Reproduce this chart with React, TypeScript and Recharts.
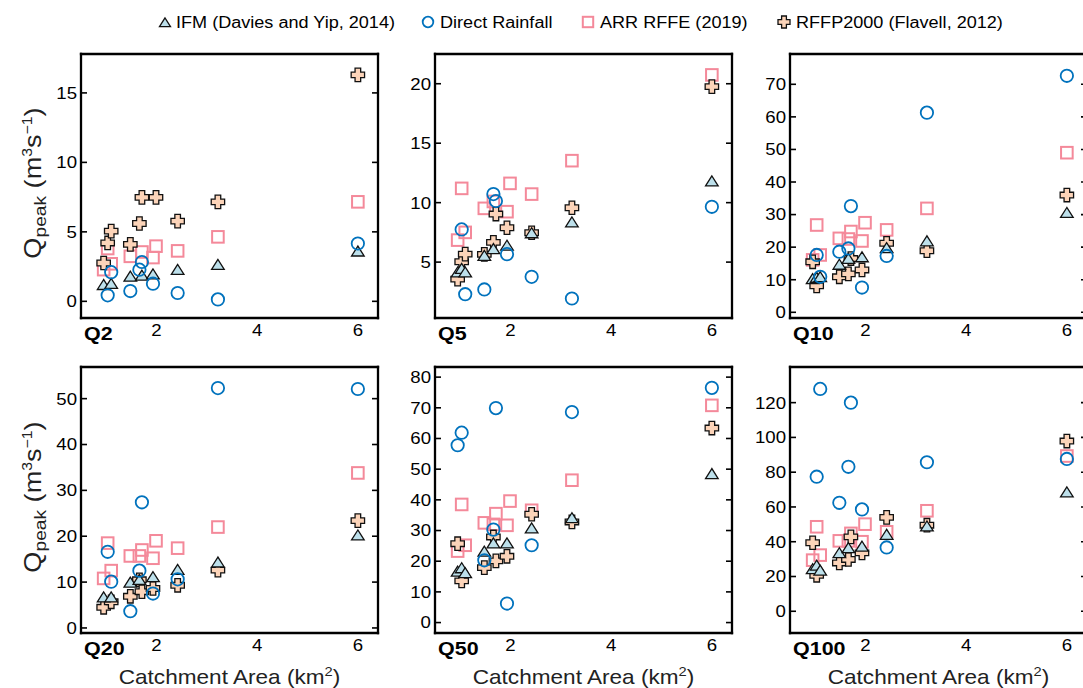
import React from 'react';
import { ScatterChart, Scatter, XAxis, YAxis } from 'recharts';

// ---------------- data ----------------
const catchmentAreas = [0.95, 1.03, 1.1, 1.48, 1.66, 1.71, 1.93, 1.99, 2.42, 3.22, 6.0];
const xTickValues = [2, 4, 6];
const seriesNames = ['IFM (Davies and Yip, 2014)', 'Direct Rainfall', 'ARR RFFE (2019)', 'RFFP2000 (Flavell, 2012)'];
const panelNames = ['Q2', 'Q5', 'Q10', 'Q20', 'Q50', 'Q100'];

const q2Ifm = [1.15, null, 1.23, 1.75, null, 1.83, 1.92, null, 2.24, 2.6, 3.56];
const q2Dr = [null, 0.43, 2.1, 0.74, 2.28, 2.83, 1.27, null, 0.6, 0.14, 4.16];
const q2Arr = [2.28, 3.8, 2.7, 3.24, null, 3.55, 3.15, 3.97, 3.63, 4.64, 7.16];
const q2Rffp = [2.76, 4.2, 5.05, 4.1, 5.6, 7.48, null, 7.48, 5.77, 7.16, 16.3];

const q5Ifm = [4.1, 4.4, 4.1, 5.5, 6.07, null, 6.35, null, 7.4, 8.31, 11.76];
const q5Dr = [null, 7.75, 2.3, 2.7, 10.72, 10.13, 5.67, null, 3.76, 1.94, 9.65];
const q5Arr = [6.85, 11.2, 7.5, 9.52, 10.1, null, 9.24, 11.62, 10.72, 13.53, 20.74];
const q5Rffp = [3.57, 5.03, 5.67, 5.65, 6.66, 9.04, 7.89, null, 7.47, 9.57, 19.76];

const q10Ifm = [10.1, 10.5, 10.7, 14.5, 16.3, null, 16.8, null, 19.6, 21.7, 30.4];
const q10Dr = [null, 17.6, 10.9, 18.6, 19.6, 32.6, 7.6, null, 17.3, 61.3, 72.6];
const q10Arr = [16.1, 26.8, 17.6, 22.7, 22.5, 24.8, 21.9, 27.5, 25.3, 31.9, 49.0];
const q10Rffp = [15.5, 8.1, null, 10.9, 11.8, 16.5, 13.0, null, 21.2, 18.9, 36.0];

const q20Ifm = [6.6, null, 6.6, 9.8, 10.4, null, 11.0, null, 12.6, 14.2, 20.1];
const q20Dr = [null, 16.6, 10.1, 3.65, 12.5, 27.4, 7.5, null, 10.6, 52.3, 52.1];
const q20Arr = [10.8, 18.5, 12.5, 15.7, 15.7, 17.0, 15.2, 19.0, 17.4, 22.0, 33.8];
const q20Rffp = [4.5, null, 5.7, 6.9, 10.5, 7.9, 8.6, null, 9.3, 12.6, 23.4];

const q50Ifm = [16.5, 17.6, 16.0, 23.0, 25.7, null, 25.7, null, 30.6, 33.9, 48.3];
const q50Dr = [57.8, 61.9, null, 20.3, 30.3, 69.9, 6.2, null, 25.2, 68.6, 76.5];
const q50Arr = [23.3, 38.5, 25.2, 32.5, 32.0, 35.5, 31.7, 39.6, 36.6, 46.4, 70.8];
const q50Rffp = [25.7, 13.6, null, 17.9, 27.9, 20.1, 21.6, null, 35.3, 32.8, 63.4];

const q100Ifm = [24.0, 26.0, 23.2, 33.2, 36.1, null, 37.0, null, 43.8, 48.6, 68.2];
const q100Dr = [null, 77.4, 127.9, 62.4, 83.1, 120, 58.6, null, 36.7, 85.7, 87.6];
const q100Arr = [29.4, 48.6, 32.3, 40.5, 40.5, 44.8, 40.0, 50.1, 45.7, 57.8, 89.3];
const q100Rffp = [39.4, 20.7, null, 27.8, 29.8, 42.8, 33.6, null, 54.0, 49.5, 97.9];

const q2YTicks = [0, 5, 10, 15];
const q5YTicks = [5, 10, 15, 20];
const q10YTicks = [0, 10, 20, 30, 40, 50, 60, 70];
const q20YTicks = [0, 10, 20, 30, 40, 50];
const q50YTicks = [0, 10, 20, 30, 40, 50, 60, 70, 80];
const q100YTicks = [0, 20, 40, 60, 80, 100, 120];

// ---------------- layout / style ----------------
const FONT = '"Liberation Sans", Arial, Helvetica, sans-serif';
const SX = 1.13;
const X_DOMAIN: [number, number] = [0.5, 6.4];
const COL_LEFT = [81, 435, 790];
const ROW_TOP = [54, 367];
const ROW_H = [264, 266];
const PLOT_W = 297;

const BLUE = '#0072BD';
const PINK = '#F4899A';
const TRI_FILL = '#BDE0EB';
const CROSS_FILL = '#FCD4B9';
const EDGE = '#111111';

type Panel = {
  name: string;
  col: number;
  row: number;
  yDomain: [number, number];
  yTicks: number[];
  values: (number | null)[][]; // [IFM, DR, ARR, RFFP]
};

const panels: Panel[] = [
  { name: panelNames[0], col: 0, row: 0, yDomain: [-1.2, 17.8], yTicks: q2YTicks, values: [q2Ifm, q2Dr, q2Arr, q2Rffp] },
  { name: panelNames[1], col: 1, row: 0, yDomain: [0.3, 22.5], yTicks: q5YTicks, values: [q5Ifm, q5Dr, q5Arr, q5Rffp] },
  { name: panelNames[2], col: 2, row: 0, yDomain: [-1.75, 79.3], yTicks: q10YTicks, values: [q10Ifm, q10Dr, q10Arr, q10Rffp] },
  { name: panelNames[3], col: 0, row: 1, yDomain: [-1.1, 56.9], yTicks: q20YTicks, values: [q20Ifm, q20Dr, q20Arr, q20Rffp] },
  { name: panelNames[4], col: 1, row: 1, yDomain: [-3.4, 83.3], yTicks: q50YTicks, values: [q50Ifm, q50Dr, q50Arr, q50Rffp] },
  { name: panelNames[5], col: 2, row: 1, yDomain: [-12.5, 140.5], yTicks: q100YTicks, values: [q100Ifm, q100Dr, q100Arr, q100Rffp] },
];

const toPoints = (vals: (number | null)[]) =>
  catchmentAreas
    .map((x, i) => ({ x, y: vals[i] }))
    .filter((d) => d.y !== null && d.y !== undefined);

// ---------------- marker shapes ----------------
const triPath = (cx: number, cy: number, s: number) =>
  `${cx},${cy - s * 0.92} ${cx - s},${cy + s * 0.66} ${cx + s},${cy + s * 0.66}`;
const crossPath = (cx: number, cy: number, L: number, a: number) =>
  [
    [cx - a, cy - L], [cx + a, cy - L], [cx + a, cy - a], [cx + L, cy - a], [cx + L, cy + a], [cx + a, cy + a],
    [cx + a, cy + L], [cx - a, cy + L], [cx - a, cy + a], [cx - L, cy + a], [cx - L, cy - a], [cx - a, cy - a],
  ].map((p) => p.join(',')).join(' ');

const TriMark = ({ cx, cy, s = 6.3 }: any) =>
  cx == null ? null : <polygon points={triPath(cx, cy, s)} fill={TRI_FILL} stroke={EDGE} strokeWidth={1.3} strokeLinejoin="miter" />;
const CircleMark = ({ cx, cy, r = 6.2 }: any) =>
  cx == null ? null : <circle cx={cx} cy={cy} r={r} fill="none" stroke={BLUE} strokeWidth={1.8} />;
const SquareMark = ({ cx, cy, h = 5.8 }: any) =>
  cx == null ? null : <rect x={cx - h} y={cy - h} width={2 * h} height={2 * h} fill="none" stroke={PINK} strokeWidth={2} />;
const CrossMark = ({ cx, cy, L = 6.7, a = 2.8 }: any) =>
  cx == null ? null : <polygon points={crossPath(cx, cy, L, a)} fill={CROSS_FILL} stroke={EDGE} strokeWidth={1.3} />;

const shapeFns = [
  (p: any) => <TriMark cx={p.cx} cy={p.cy} />,
  (p: any) => <CircleMark cx={p.cx} cy={p.cy} />,
  (p: any) => <SquareMark cx={p.cx} cy={p.cy} />,
  (p: any) => <CrossMark cx={p.cx} cy={p.cy} />,
];
const drawOrder = [2, 3, 0, 1];

// ---------------- ticks ----------------
const TICK_FS = 16.5;
const XTick = (props: any) => {
  const { x, y, payload } = props;
  return (
    <text transform={`translate(${x},${y + 18}) scale(${SX},1)`} textAnchor="middle" fontSize={TICK_FS} fontFamily={FONT} fill="#000">
      {payload.value}
    </text>
  );
};
const YTick = (props: any) => {
  const { x, y, payload } = props;
  return (
    <text transform={`translate(${x - 4},${y + 5.9}) scale(${SX},1)`} textAnchor="end" fontSize={TICK_FS} fontFamily={FONT} fill="#000">
      {payload.value}
    </text>
  );
};
const NoTick = () => <g />;

const axisLineStyle = { stroke: '#000', strokeWidth: 2.3, strokeLinecap: 'square' as const };
const tickLineStyle = { stroke: '#000', strokeWidth: 1.6 };

const YW = 60;
const MT = 10;
const MR = 10;
const XH = 40;

function PanelChart({ panel }: { panel: Panel }) {
  const left = COL_LEFT[panel.col];
  const top = ROW_TOP[panel.row];
  const h = ROW_H[panel.row];
  return (
    <div style={{ position: 'absolute', left: left - YW, top: top - MT }}>
      <ScatterChart width={YW + PLOT_W + MR} height={MT + h + XH} margin={{ top: MT, right: MR, bottom: 0, left: 0 }}>
        <XAxis xAxisId="b" type="number" dataKey="x" domain={X_DOMAIN} ticks={xTickValues} allowDataOverflow
          height={XH} tickLine={false} tickSize={0} tickMargin={0} axisLine={axisLineStyle} tick={XTick} interval={0} />
        <XAxis xAxisId="bi" type="number" domain={X_DOMAIN} ticks={xTickValues} allowDataOverflow orientation="bottom"
          mirror tick={NoTick} tickLine={tickLineStyle} tickSize={6} axisLine={false} interval={0} />
        <XAxis xAxisId="t" type="number" domain={X_DOMAIN} ticks={xTickValues} allowDataOverflow orientation="top"
          mirror tick={NoTick} tickLine={tickLineStyle} tickSize={6} axisLine={axisLineStyle} interval={0} />
        <YAxis yAxisId="l" type="number" dataKey="y" domain={panel.yDomain} ticks={panel.yTicks} allowDataOverflow
          width={YW} tickLine={false} tickSize={0} tickMargin={0} axisLine={axisLineStyle} tick={YTick} interval={0} />
        <YAxis yAxisId="li" type="number" domain={panel.yDomain} ticks={panel.yTicks} allowDataOverflow
          mirror tick={NoTick} tickLine={tickLineStyle} tickSize={6} axisLine={false} interval={0} />
        <YAxis yAxisId="r" type="number" domain={panel.yDomain} ticks={panel.yTicks} allowDataOverflow orientation="right"
          mirror tick={NoTick} tickLine={tickLineStyle} tickSize={6} axisLine={axisLineStyle} interval={0} />
        {drawOrder.map((k) => (
          <Scatter key={k} name={seriesNames[k]} data={toPoints(panel.values[k])} xAxisId="b" yAxisId="l"
            shape={shapeFns[k]} isAnimationActive={false} />
        ))}
      </ScatterChart>
    </div>
  );
}

const legendPos = [
  { mx: 165, tx: 176 },
  { mx: 428, tx: 440 },
  { mx: 588, tx: 600 },
  { mx: 784, tx: 796 },
];

function Overlay() {
  const LY = 22;
  return (
    <svg width={1083} height={688} style={{ position: 'absolute', left: 0, top: 0, pointerEvents: 'none' }}>
      {/* legend */}
      <TriMark cx={legendPos[0].mx} cy={LY + 1} s={5.5} />
      <CircleMark cx={legendPos[1].mx} cy={LY} r={5.3} />
      <SquareMark cx={legendPos[2].mx} cy={LY} h={5.2} />
      <CrossMark cx={legendPos[3].mx} cy={LY} L={6} a={2.4} />
      {seriesNames.map((n, i) => (
        <text key={n} transform={`translate(${legendPos[i].tx},${LY + 5.7}) scale(${SX},1)`} fontSize={16} fontFamily={FONT} fill="#000">
          {n}
        </text>
      ))}
      {/* panel labels */}
      {panels.map((p) => (
        <text key={p.name} transform={`translate(${COL_LEFT[p.col] + 3},${ROW_TOP[p.row] + ROW_H[p.row] + 22}) scale(${SX},1)`}
          fontSize={19} fontWeight="bold" fontFamily={FONT} fill="#000">
          {p.name}
        </text>
      ))}
      {/* x titles */}
      {COL_LEFT.map((l, i) => (
        <text key={i} transform={`translate(${l + PLOT_W / 2},684) scale(${SX},1)`} textAnchor="middle" fontSize={20} fontFamily={FONT} fill="#222">
          Catchment Area (km<tspan fontSize={13} dy={-8}>2</tspan><tspan dy={8}>)</tspan>
        </text>
      ))}
      {/* y titles */}
      {ROW_TOP.map((t, i) => (
        <text key={i} transform={`translate(41,${t + ROW_H[i] / 2 - 3}) rotate(-90) scale(${SX},1)`} textAnchor="middle" fontSize={24} fontFamily={FONT} fill="#222">
          Q<tspan fontSize={17} dy={5}>peak</tspan><tspan dy={-5}> (m</tspan><tspan fontSize={14} dy={-9}>3</tspan><tspan dy={9}>s</tspan><tspan fontSize={14} dy={-9}>−1</tspan><tspan dy={9}>)</tspan>
        </text>
      ))}
    </svg>
  );
}

export default function App() {
  return (
    <div style={{ position: 'fixed', left: 0, top: 0, width: 1083, height: 688, overflow: 'hidden', background: '#fff' }}>
      {panels.map((p) => (
        <PanelChart key={p.name} panel={p} />
      ))}
      <Overlay />
    </div>
  );
}
